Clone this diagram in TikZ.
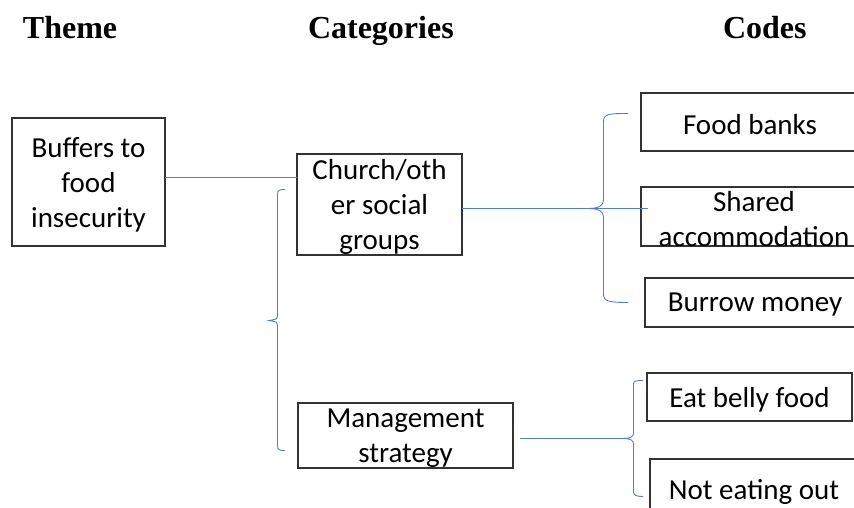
\documentclass[tikz,border=0pt]{standalone}
\usepackage{fontspec}
\setmainfont{Carlito}
\newfontfamily\headfont{Liberation Serif}
\begin{document}
\begin{tikzpicture}[x=1pt,y=-1pt,
  every node/.style={inner sep=0pt, outer sep=0pt},
  head/.style={anchor=base west, font=\headfont\fontsize{32}{36}\selectfont\bfseries},
  box/.style={draw=black!80, line width=1.1pt, anchor=north west},
  lbl/.style={align=center, yshift=-2.5pt, font=\fontsize{29}{35}\selectfont},
  link/.style={draw={rgb,255:red,84;green,125;blue,205}, line width=0.9pt},
]
\useasboundingbox (0,0) rectangle (854,508);

% column headings
\node[head] (hTheme) at (23,38.5) {Theme};
\node[head] (hCat) at (308,38.5) {Categories};
\node[head] (hCodes) at (723,38.5) {Codes};

% theme
\node[box, minimum width=153, minimum height=128,
  label={[lbl]center:Buffers to\\food\\insecurity}] (buffers) at (12,118) {};

% categories
\node[box, minimum width=165, minimum height=101,
  label={[lbl]center:Church/oth\\er social\\groups}] (church) at (297,154) {};
\node[box, minimum width=215, minimum height=65,
  label={[lbl]center:Management\\strategy}] (manage) at (298,403) {};

% codes
\node[box, minimum width=218, minimum height=58,
  label={[lbl]center:Food banks}] (foodbanks) at (641,93) {};
\node[box, minimum width=226, minimum height=59,
  label={[lbl]center:Shared\\accommodation}] (shared) at (641,187) {};
\node[box, minimum width=220, minimum height=49,
  label={[lbl]center:Burrow money}] (burrow) at (645,278) {};
\node[box, minimum width=205, minimum height=48,
  label={[lbl]center:Eat belly food}] (belly) at (647,373) {};
\node[box, minimum width=208, minimum height=60,
  label={[lbl]center:Not eating out}] (eatout) at (650,459) {};

% connectors
\coordinate (thLine) at (165,177.5);
\coordinate (shEnd) at (648,208.5);
\coordinate (mgStart) at (520,438.5);
\coordinate (mgTip) at (623,438.5);

\draw[link] (thLine) -- (church.west |- thLine);
\draw[link] (church.east |- shEnd) -- (shEnd);
\draw[link] (mgStart) -- (mgTip);

% bracket grouping the two categories
\draw[link] (285,189.5) .. controls (279.5,189.5) and (277.5,190) .. (277.5,194)
  -- (277.5,316) .. controls (277.5,319) .. (269,320.5)
  .. controls (277.5,322) .. (277.5,325)
  -- (277.5,446) .. controls (277.5,450) and (279.5,450.5) .. (285,450.5);

% brace grouping the church codes
\draw[link] (628,113.5) .. controls (608,113.5) and (603.5,114) .. (603.5,122)
  -- (603.5,200) .. controls (603.5,206) and (598,208.5) .. (588,208.5)
  .. controls (598,208.5) and (603.5,211) .. (603.5,217)
  -- (603.5,294) .. controls (603.5,301) and (608,302.5) .. (628,302.5);

% brace grouping the management codes
\draw[link] (643,380.5) .. controls (636,380.5) and (633.5,381) .. (633.5,384)
  -- (633.5,433) .. controls (633.5,437) and (630,438.5) .. (mgTip)
  .. controls (630,438.5) and (633.5,440) .. (633.5,444)
  -- (633.5,492) .. controls (633.5,495) and (636,496.5) .. (643,496.5);
\end{tikzpicture}
\end{document}
